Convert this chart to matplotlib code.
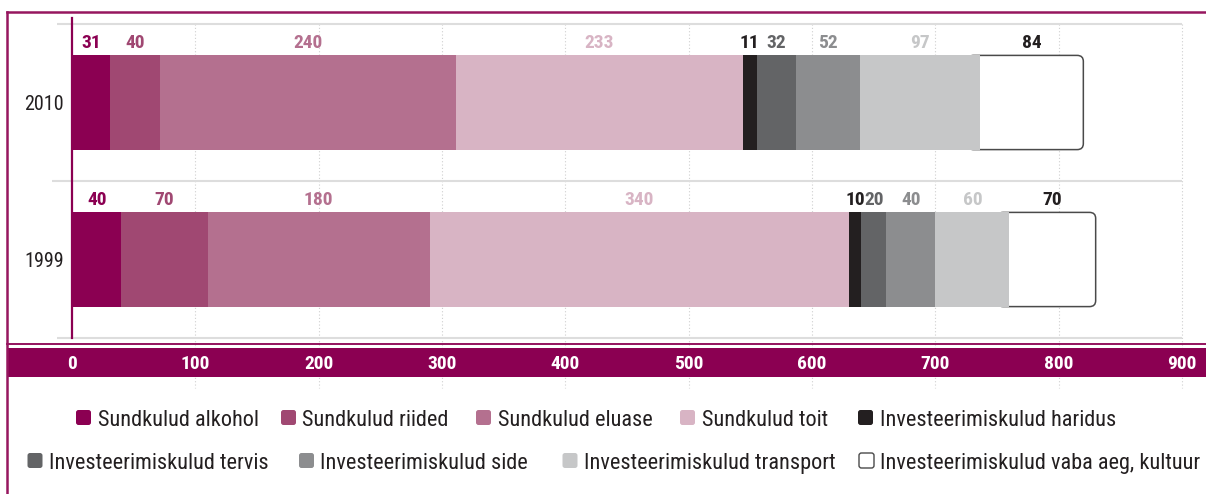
import matplotlib
matplotlib.use("Agg")
import matplotlib.pyplot as plt
from matplotlib import font_manager
from matplotlib.patches import Rectangle, FancyBboxPatch
from matplotlib.lines import Line2D
import numpy as np

# ---------------- data ----------------
years = ["2010", "1999"]
categories = [
    "Sundkulud alkohol", "Sundkulud riided", "Sundkulud eluase", "Sundkulud toit",
    "Investeerimiskulud haridus", "Investeerimiskulud tervis", "Investeerimiskulud side",
    "Investeerimiskulud transport", "Investeerimiskulud vaba aeg, kultuur",
]
values_2010 = [31, 40, 240, 233, 11, 32, 52, 97, 84]
values_1999 = [40, 70, 180, 340, 10, 20, 40, 60, 70]
x_ticks = [0, 100, 200, 300, 400, 500, 600, 700, 800, 900]

# ---------------- style ----------------
colors = ["#8b0052", "#a04872", "#b4708f", "#d8b4c4", "#231f20",
          "#636466", "#8c8d8f", "#c6c7c8", "#ffffff"]
label_colors = ["#8b0052", "#a04872", "#b4708f", "#d8b4c4", "#231f20",
                "#636466", "#8c8d8f", "#c6c7c8", "#231f20"]
PURPLE = "#8b0052"
TEXT = "#231f20"

names = {f.name for f in font_manager.fontManager.ttflist}
font = "DejaVu Sans"
for cand in ["Roboto Condensed", "Liberation Sans Narrow", "Noto Sans Condensed",
             "Open Sans Condensed", "DejaVu Sans Condensed"]:
    if cand in names:
        font = cand
        break
plt.rcParams["font.family"] = [font, "DejaVu Sans"]

W, H = 1206, 494
fig = plt.figure(figsize=(W / 100, H / 100), dpi=100)


def fx(px):
    return px / W


def fy(py):
    return 1 - py / H


ax = fig.add_axes([fx(72), fy(338), fx(1182) - fx(72), fy(18) - fy(338)])
UNIT = 157.0  # px per category
ypos = np.arange(len(years))
data = np.array([values_2010, values_1999])

lefts = np.zeros(len(years))
bar_h = 0.6
for j, cat in enumerate(categories):
    vals = data[:, j]
    if j == len(categories) - 1:
        bars = ax.barh(ypos, vals, left=lefts, height=bar_h, color="none",
                       edgecolor="none", zorder=1.5)
        for b in bars:
            x0, y0, w, h = b.get_x(), b.get_y(), b.get_width(), b.get_height()
            ext = 10
            r = 5.0
            asp = (6.0 / UNIT) / r
            fb = FancyBboxPatch((x0 - ext, y0), w + ext, h,
                                boxstyle=f"round,pad=0,rounding_size={r}",
                                mutation_aspect=asp, fc="white", ec="#4a4a4a",
                                lw=1.1, zorder=1.5)
            ax.add_patch(fb)
    else:
        ax.barh(ypos, vals, left=lefts, height=bar_h, color=colors[j],
                edgecolor="none", zorder=2)
    for i in range(len(years)):
        ax.text(lefts[i] + vals[i] / 2, ypos[i] - 0.345, str(vals[i]),
                ha="center", va="baseline", color=label_colors[j],
                fontsize=14, fontweight="bold", zorder=3)
    lefts = lefts + vals

# grid lines
for yb, xs in [(-0.5, -12), (0.5, -16), (1.5, -12)]:
    ax.plot([xs, 900], [yb, yb], color="#dddddd", lw=1.5, clip_on=False,
            zorder=0.5, solid_capstyle="butt")
ax.vlines(x_ticks[1:], -0.5, 1.5 + 50 / UNIT, colors="#cfcfcf",
          linestyles=(0, (1, 2)), lw=0.8, clip_on=False, zorder=0.4)

# purple band + thin line (figure coordinates, drawn inside axes for z-order)
ax.add_patch(Rectangle((fx(7), fy(377)), 1.0, fy(348) - fy(377),
                       transform=fig.transFigure, facecolor=PURPLE,
                       edgecolor="none", clip_on=False, zorder=2.2))
ax.add_line(Line2D([fx(7), 1.0], [fy(343.5), fy(343.5)], transform=fig.transFigure,
                   color=PURPLE, lw=1.3, clip_on=False, zorder=2.2))

ax.set_xlim(0, 900)
ax.set_ylim(1.5, -0.5 - 6 / UNIT)

for s in ["top", "right", "bottom"]:
    ax.spines[s].set_visible(False)
ax.spines["left"].set_color(PURPLE)
ax.spines["left"].set_linewidth(1.6)
ax.spines["left"].set_zorder(3)

ax.set_xticks(x_ticks)
ax.set_xticklabels([str(t) for t in x_ticks])
ax.tick_params(axis="x", length=0, pad=22, labelsize=14, labelcolor="white")
for t in ax.xaxis.get_major_ticks():
    t.label1.set_va("baseline")
    t.label1.set_fontweight("bold")
ax.xaxis.set_zorder(5)
ax.yaxis.set_zorder(5)
ax.set_yticks(ypos)
ax.set_yticklabels(years)
ax.tick_params(axis="y", length=0, pad=6, labelsize=14.5, labelcolor=TEXT)

# outer border
fig.add_artist(Line2D([fx(7), 1.0], [fy(12), fy(12)], transform=fig.transFigure,
                      color="#96165f", lw=1.8))
fig.add_artist(Line2D([fx(7), fx(7)], [fy(12), 0.0], transform=fig.transFigure,
                      color="#96165f", lw=1.8))

# legend (two rows)
legend_rows = [[0, 1, 2, 3, 4], [5, 6, 7, 8]]
legend_x = [[76, 281, 476, 680, 858], [27.5, 299, 562.5, 859]]
legend_y = [410, 453]
for r, row in enumerate(legend_rows):
    for k, ci in enumerate(row):
        x0 = legend_x[r][k]
        y0 = legend_y[r]
        ec = "#4a4a4a" if ci == len(categories) - 1 else "none"
        fig.add_artist(FancyBboxPatch((fx(x0), fy(y0 + 15)), 15 / W, 15 / H,
                                      boxstyle=f"round,pad=0,rounding_size={2.5 / W}",
                                      mutation_aspect=W / H,
                                      transform=fig.transFigure,
                                      fc=colors[ci], ec=ec, lw=1.0))
        fig.text(fx(x0 + 21.5), fy(y0 + 16), categories[ci], ha="left",
                 va="baseline", fontsize=16, color=TEXT)

fig.savefig("out.png", dpi=100)
